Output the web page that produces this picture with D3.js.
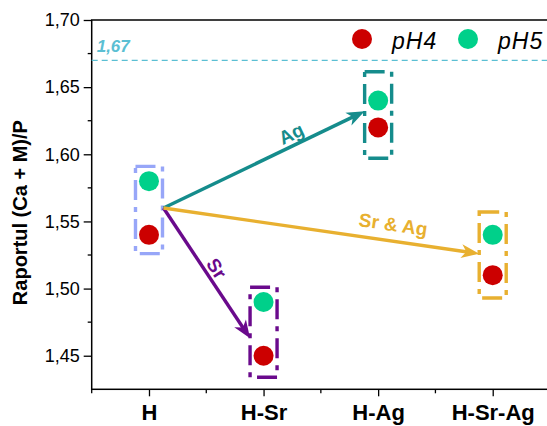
<!DOCTYPE html>
<html>
<head>
<meta charset="utf-8">
<script src="https://cdn.jsdelivr.net/npm/d3@7"></script>
<style>
  body { margin: 0; background: #fff; }
  svg { display: block; font-family: "Liberation Sans", Arial, sans-serif; }
</style>
</head>
<body>
<div id="chart"></div>
<script>
// data
var categories = ["H", "H-Sr", "H-Ag", "H-Sr-Ag"];
var pH4 = [1.54, 1.45, 1.62, 1.51];
var pH5 = [1.58, 1.49, 1.64, 1.54];
// dashed group boxes (top / bottom value of each box)
var boxTop = [1.591, 1.501, 1.6615, 1.557];
var boxBottom = [1.526, 1.434, 1.597, 1.493];
var boxColors = ["#97A6F8", "#6A0A8C", "#158C8C", "#E8B030"];
var yTicks = [1.45, 1.50, 1.55, 1.60, 1.65, 1.70];
var refValue = 1.67;
// arrows start at H (1.56) and point to the box of each target
var arrowFrom = { cat: "H", value: 1.56 };
var arrowTargets = ["H-Ag", "H-Sr", "H-Sr-Ag"];
var arrowValues = [1.632, 1.463, 1.526];
var arrowLabels = ["Ag", "Sr", "Sr & Ag"];
var arrowColors = ["#158C8C", "#6A0A8C", "#E8B030"];

var width = 547, height = 426;
var margin = { top: 20, left: 91.7, bottom: 389.3, right: 550 };

var svg = d3.select("#chart").append("svg")
  .attr("width", width)
  .attr("height", height);

var x = d3.scaleLinear().domain([-0.5, 3.5]).range([margin.left, margin.right]);
var y = d3.scaleLinear().domain([1.425, 1.70]).range([margin.bottom, margin.top]);
var xc = function (c) { return x(categories.indexOf(c)); };

var RED = "#CC0000", GREEN = "#00D08A";

/* ------- AXES ------- */
var yAxis = d3.axisLeft(y).tickValues(yTicks).tickSize(8).tickPadding(4)
  .tickFormat(function (d) { return d3.format(".2f")(d).replace(".", ","); });
var yg = svg.append("g").attr("transform", "translate(" + margin.left + ",0)").call(yAxis);
yg.select(".domain").remove();
yg.selectAll("text").style("font-size", "18px").attr("fill", "#000");

var yMinor = [1.475, 1.525, 1.575, 1.625, 1.675];
svg.append("g").selectAll("line").data(yMinor).enter().append("line")
  .attr("x1", margin.left - 4).attr("x2", margin.left)
  .attr("y1", function (d) { return y(d); }).attr("y2", function (d) { return y(d); })
  .attr("stroke", "#000").attr("stroke-width", 1.3);

var xAxis = d3.axisBottom(x).tickValues(d3.range(categories.length)).tickSize(7).tickPadding(8)
  .tickFormat(function (i) { return categories[i]; });
var xg = svg.append("g").attr("transform", "translate(0," + margin.bottom + ")").call(xAxis);
xg.select(".domain").remove();
xg.selectAll("text").style("font-size", "22px").style("font-weight", "bold").attr("fill", "#000");

svg.append("g").selectAll("line").data([-0.5, 0.5, 1.5, 2.5, 3.5]).enter().append("line")
  .attr("x1", function (d) { return x(d); }).attr("x2", function (d) { return x(d); })
  .attr("y1", margin.bottom).attr("y2", margin.bottom + 4)
  .attr("stroke", "#000").attr("stroke-width", 1.3);

svg.selectAll(".tick line").attr("stroke-width", 1.3);

// frame (right side falls outside the window)
svg.append("rect")
  .attr("x", margin.left).attr("y", margin.top)
  .attr("width", margin.right - margin.left).attr("height", margin.bottom - margin.top)
  .attr("fill", "none").attr("stroke", "#000").attr("stroke-width", 1.5);

// y title
svg.append("text")
  .attr("transform", "translate(27," + ((margin.top + margin.bottom) / 2 + 8) + ") rotate(-90)")
  .attr("text-anchor", "middle")
  .style("font-size", "20px").style("font-weight", "bold")
  .text("Raportul (Ca + M)/P");

/* ------- REFERENCE LINE ------- */
svg.append("line")
  .attr("x1", margin.left).attr("x2", margin.right)
  .attr("y1", y(refValue)).attr("y2", y(refValue))
  .attr("stroke", "#5BBFD3").attr("stroke-width", 1.2).attr("stroke-dasharray", "6,4");
svg.append("text")
  .attr("x", margin.left + 5).attr("y", y(refValue) - 8)
  .attr("fill", "#5BBFD3")
  .style("font-size", "17px").style("font-weight", "bold").style("font-style", "italic")
  .text(d3.format(".2f")(refValue).replace(".", ","));

/* ------- BOXES ------- */
svg.append("g").selectAll("path").data(categories).enter().append("path")
  .attr("d", function (c, i) {
    var x0 = xc(c) - 13.5, x1 = xc(c) + 13.5;
    var y0 = y(boxTop[i]), y1 = y(boxBottom[i]);
    return "M" + x0 + "," + y0 + "H" + x1 + "V" + y1 + "H" + x0 + "Z";
  })
  .attr("fill", "none")
  .attr("stroke", function (c, i) { return boxColors[i]; })
  .attr("stroke-width", 3.4)
  .attr("stroke-dasharray", "20,7,5,7");

/* ------- ARROWS ------- */
var ax0 = xc(arrowFrom.cat) + 14.5, ay0 = y(arrowFrom.value);
var arrowTs = [0.66, 0.51, 0.72];
var arrowOffs = [-5, -4, -10];
arrowTargets.forEach(function (t, i) {
  var ax1 = xc(t) - 13.5, ay1 = y(arrowValues[i]);
  var ang = Math.atan2(ay1 - ay0, ax1 - ax0);
  var deg = ang * 180 / Math.PI;
  svg.append("line")
    .attr("x1", ax0).attr("y1", ay0)
    .attr("x2", ax1 - 10 * Math.cos(ang)).attr("y2", ay1 - 10 * Math.sin(ang))
    .attr("stroke", arrowColors[i]).attr("stroke-width", 3.4);
  svg.append("path")
    .attr("transform", "translate(" + ax1 + "," + ay1 + ") rotate(" + deg + ")")
    .attr("d", "M0,0 L-18,-7 L-13,0 L-18,7 Z")
    .attr("fill", arrowColors[i]);
  var px = ax0 + (ax1 - ax0) * arrowTs[i], py = ay0 + (ay1 - ay0) * arrowTs[i];
  svg.append("text")
    .attr("transform", "translate(" + px + "," + py + ") rotate(" + deg + ")")
    .attr("y", arrowOffs[i])
    .attr("text-anchor", "middle")
    .attr("fill", arrowColors[i])
    .style("font-size", "19px").style("font-weight", "bold")
    .text(arrowLabels[i]);
});

/* ------- POINTS ------- */
var pts = svg.append("g");
pts.selectAll("circle.p4").data(categories).enter().append("circle")
  .attr("class", "p4")
  .attr("cx", function (c) { return xc(c); })
  .attr("cy", function (c, i) { return y(pH4[i]); })
  .attr("r", 10).attr("fill", RED);
pts.selectAll("circle.p5").data(categories).enter().append("circle")
  .attr("class", "p5")
  .attr("cx", function (c) { return xc(c); })
  .attr("cy", function (c, i) { return y(pH5[i]); })
  .attr("r", 10).attr("fill", GREEN);

/* ------- LEGEND ------- */
var legend = [{ name: "pH4", color: RED, x: 362 }, { name: "pH5", color: GREEN, x: 468 }];
var lg = svg.append("g").selectAll("g").data(legend).enter().append("g");
lg.append("circle").attr("cx", function (d) { return d.x; }).attr("cy", 39).attr("r", 10)
  .attr("fill", function (d) { return d.color; });
lg.append("text").attr("x", function (d) { return d.x + 30; }).attr("y", 48.5)
  .style("font-size", "23px").style("font-style", "italic").style("letter-spacing", "1px")
  .text(function (d) { return d.name; });
</script>
</body>
</html>
